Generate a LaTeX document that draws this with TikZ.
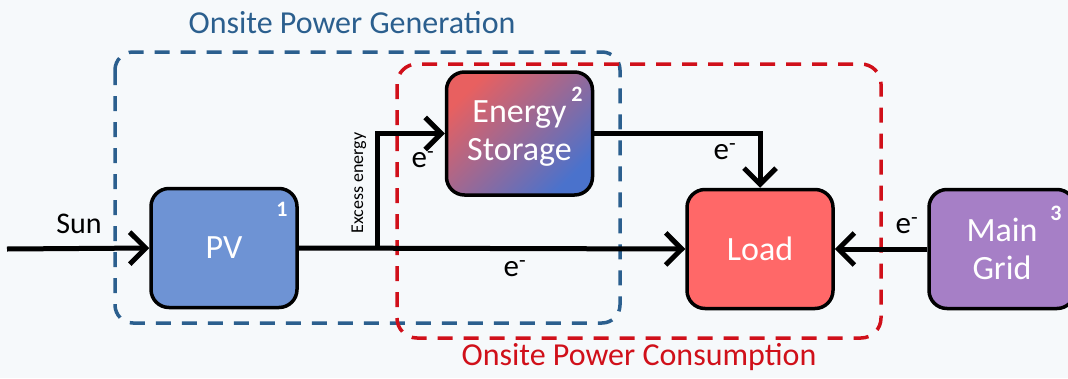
\documentclass[tikz,border=0pt]{standalone}
\usepackage{fontspec}
\setmainfont{Carlito}
\usetikzlibrary{arrows.meta}
\definecolor{genblue}{HTML}{2B5F8E}
\definecolor{conred}{HTML}{D0101A}
\definecolor{pvblue}{HTML}{6E93D4}
\definecolor{loadred}{HTML}{FF6868}
\definecolor{gridpurple}{HTML}{A67FC6}
\definecolor{esred}{HTML}{E86060}
\definecolor{esblue}{HTML}{4A72CC}
\definecolor{bgcol}{HTML}{F6F9FB}
\begin{document}
\begin{tikzpicture}[x=1pt,y=-1pt,
  box/.style={draw=black, line width=3.5pt, rounded corners=18pt,
    minimum width=146pt, minimum height=119pt, text=white,
    font=\fontsize{34}{38}\selectfont, align=center, inner sep=0pt},
  flow/.style={draw=black, line width=5pt,
    -{Straight Barb[length=16pt,width=32pt]}},
  gendash/.style={draw=genblue, line width=3.5pt, dash pattern=on 15pt off 11pt, rounded corners=18pt},
  condash/.style={draw=conred, line width=3.5pt, dash pattern=on 15pt off 11pt, rounded corners=20pt},
  grouplabel/.style={font=\fontsize{32}{34}\selectfont},
  numlabel/.style={text=white, font=\bfseries\fontsize{22}{24}\selectfont, inner sep=0pt},
  elabel/.style={text=black, font=\fontsize{31}{33}\selectfont, inner sep=0pt}
]
\useasboundingbox (0,0) rectangle (1068,378);
\fill[bgcol] (0,0) rectangle (1068,378);

% group frames
\draw[gendash] (115,52) rectangle (620,323);
\draw[condash] (397,64) rectangle (881,338);
\node[grouplabel, text=genblue] (genlabel) at (352,23) {Onsite Power Generation};
\node[grouplabel, text=conred] (conlabel) at (639,357) {Onsite Power Consumption};

% boxes
\node[box, fill=pvblue] (pv) at (224,248) {PV};
\node[box, minimum height=123pt, top color=esred, bottom color=esblue, shading angle=45] (es) at (519.5,133.5) {Energy\\Storage};
\node[box, fill=loadred] (load) at (760,249) {Load};
\node[box, fill=gridpurple] (grid) at (1002,249) {Main\\Grid};

\node[numlabel] (n1) at (282,209) {1};
\node[numlabel] (n2) at (577,94) {2};
\node[numlabel] (n3) at (1056,213) {3};

% connectors
\coordinate (sunstart) at (7,249);
\coordinate (junc) at (377,249);
\draw[flow] (sunstart) -- (pv.west);
\draw[flow] (pv.east) -- (load.west);
\draw[flow] (junc) |- (es.west);
\draw[flow] (es.east) -| (load.north);
\draw[flow] (grid.west) -- (load.east);

% labels
\node[grouplabel, font=\fontsize{30}{32}\selectfont] (sun) at (79,224) {Sun};
\node[font=\fontsize{18}{19}\selectfont, rotate=90] (excess) at (359,183) {Excess energy};
\node[elabel] (e1) at (423,160) {e\textsuperscript{-}};
\node[elabel] (e2) at (515,269) {e\textsuperscript{-}};
\node[elabel] (e3) at (725,152) {e\textsuperscript{-}};
\node[elabel] (e4) at (907,226) {e\textsuperscript{-}};
\end{tikzpicture}
\end{document}
